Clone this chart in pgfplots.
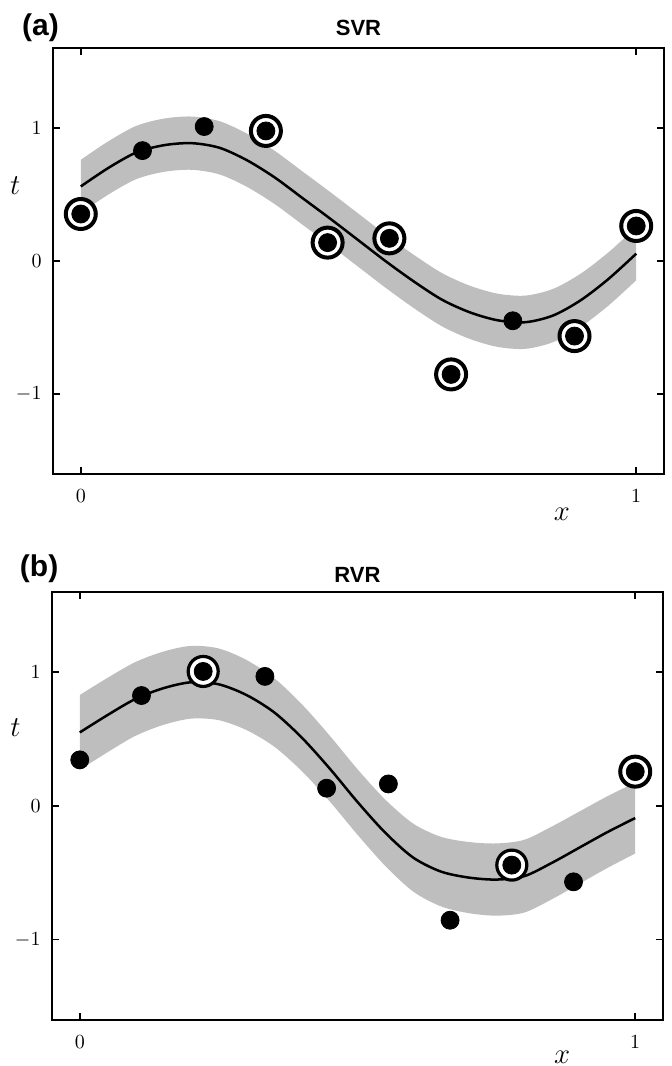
\documentclass[border=0pt]{standalone}
\usepackage{fontspec}
\usepackage{pgfplots}
\pgfplotsset{compat=1.18}
\newfontfamily\hv{Liberation Sans}
\definecolor{bandgray}{RGB}{190,190,190}
\pgfplotsset{
  panel/.style={
    scale only axis, width=305.5pt,
    xmin=-0.05, xmax=1.05, ymin=-1.6, ymax=1.6,
    xtick={0,1}, ytick={-1,0,1},
    tick align=inside, tick pos=both,
    major tick length=3.5pt,
    axis line style={line width=0.75pt},
    every tick/.style={line width=0.75pt, black},
    tick label style={font=\fontsize{10}{12}\selectfont},
    every x tick label/.append style={yshift=-4.5pt},
    every y tick label/.append style={xshift=-2.2pt},
    every axis x label/.style={at={(axis description cs:0.833,-0.094)}, anchor=center, font=\fontsize{15.5}{18}\selectfont},
    every axis y label/.style={at={(axis description cs:-0.062,0.678)}, anchor=center, font=\fontsize{15.5}{18}\selectfont},
    every axis title/.style={at={(axis description cs:0.5,1.047)}, anchor=center, font=\hv\bfseries\fontsize{11}{13}\selectfont},
    xlabel={$x$}, ylabel={$t$},
  },
  ring/.style={only marks, mark=*, mark size=7.5pt, mark options={draw=black, fill=white, line width=2pt}},
  dot/.style={only marks, mark=*, mark size=4.5pt, mark options={draw=black, fill=black}},
  mean/.style={black, line width=1.25pt, smooth},
}
\begin{document}
\begin{tikzpicture}
\path[use as bounding box] (0,0) rectangle (336pt,533pt);
% ---------------- (a) SVR ----------------
\begin{axis}[panel, height=213pt, at={(26.5pt,296pt)}, anchor=south west, title={SVR}, clip mode=individual]
% lower edge of the tube
\addplot[draw=none, stack plots=y, smooth, forget plot] coordinates {
(0,0.36) (0.05,0.50) (0.10,0.615) (0.15,0.67) (0.20,0.685) (0.25,0.65) (0.30,0.555)
(0.35,0.425) (0.40,0.27) (0.45,0.115) (0.50,-0.045) (0.55,-0.205) (0.60,-0.355) (0.65,-0.49)
(0.70,-0.585) (0.75,-0.645) (0.80,-0.66) (0.85,-0.61) (0.90,-0.495) (0.95,-0.335) (1.00,-0.145)
};
% tube width (2 epsilon)
\addplot[draw=none, fill=bandgray, stack plots=y, smooth] coordinates {
(0,0.4) (0.05,0.4) (0.10,0.4) (0.15,0.4) (0.20,0.4) (0.25,0.4) (0.30,0.4)
(0.35,0.4) (0.40,0.4) (0.45,0.4) (0.50,0.4) (0.55,0.4) (0.60,0.4) (0.65,0.4)
(0.70,0.4) (0.75,0.4) (0.80,0.4) (0.85,0.4) (0.90,0.4) (0.95,0.4) (1.00,0.4)
} \closedcycle;
\addplot[mean] coordinates {
(0,0.56) (0.05,0.70) (0.10,0.815) (0.15,0.87) (0.20,0.885) (0.25,0.85) (0.30,0.755)
(0.35,0.625) (0.40,0.47) (0.45,0.315) (0.50,0.155) (0.55,-0.005) (0.60,-0.155) (0.65,-0.29)
(0.70,-0.385) (0.75,-0.445) (0.80,-0.46) (0.85,-0.41) (0.90,-0.295) (0.95,-0.135) (1.00,0.055)
};
\addplot[ring] coordinates {
(0,0.353) (0.3333,0.977) (0.4444,0.138) (0.5556,0.17) (0.6667,-0.852) (0.8889,-0.564) (1,0.263)
};
\addplot[dot] coordinates {
(0,0.353) (0.1111,0.829) (0.2222,1.01) (0.3333,0.977) (0.4444,0.138)
(0.5556,0.17) (0.6667,-0.852) (0.7778,-0.449) (0.8889,-0.564) (1,0.263)
};
\draw[line width=1.4pt] (rel axis cs:1,0) -- (rel axis cs:1,1);
\node[anchor=west, font=\hv\bfseries\fontsize{15}{18}\selectfont] at (axis description cs:-0.062,1.047) {(a)};
\end{axis}
% ---------------- (b) RVR ----------------
\begin{axis}[panel, height=214pt, at={(26pt,23pt)}, anchor=south west, title={RVR}, clip mode=individual,
  every axis title/.style={at={(axis description cs:0.5,1.040)}, anchor=center, font=\hv\bfseries\fontsize{11}{13}\selectfont},
  every axis x label/.style={at={(axis description cs:0.835,-0.086)}, anchor=center, font=\fontsize{15.5}{18}\selectfont},
  every axis y label/.style={at={(axis description cs:-0.06,0.682)}, anchor=center, font=\fontsize{15.5}{18}\selectfont}]
% lower edge of the predictive band
\addplot[draw=none, stack plots=y, smooth, forget plot] coordinates {
(0,0.27) (0.05,0.402) (0.10,0.524) (0.15,0.606) (0.20,0.653) (0.25,0.642) (0.30,0.568)
(0.35,0.444) (0.40,0.26) (0.45,0.034) (0.50,-0.215) (0.55,-0.448) (0.60,-0.639) (0.65,-0.75)
(0.70,-0.801) (0.75,-0.82) (0.80,-0.797) (0.85,-0.697) (0.90,-0.58) (0.95,-0.463) (1.00,-0.355)
};
% band width
\addplot[draw=none, fill=bandgray, stack plots=y, smooth] coordinates {
(0,0.56) (0.05,0.556) (0.10,0.552) (0.15,0.548) (0.20,0.544) (0.25,0.536) (0.30,0.524)
(0.35,0.512) (0.40,0.50) (0.45,0.492) (0.50,0.49) (0.55,0.496) (0.60,0.508) (0.65,0.52)
(0.70,0.532) (0.75,0.54) (0.80,0.544) (0.85,0.544) (0.90,0.54) (0.95,0.536) (1.00,0.53)
} \closedcycle;
\addplot[mean] coordinates {
(0,0.55) (0.05,0.68) (0.10,0.80) (0.15,0.88) (0.20,0.925) (0.25,0.91) (0.30,0.83)
(0.35,0.70) (0.40,0.51) (0.45,0.28) (0.50,0.03) (0.55,-0.20) (0.60,-0.385) (0.65,-0.49)
(0.70,-0.535) (0.75,-0.55) (0.80,-0.525) (0.85,-0.425) (0.90,-0.31) (0.95,-0.195) (1.00,-0.09)
};
\addplot[ring, mark options={draw=black, fill=white, line width=1.6pt}] coordinates {
(0.2222,1.006) (0.7778,-0.442)
};
\addplot[ring] coordinates {
(1,0.257)
};
\addplot[dot] coordinates {
(0,0.345) (0.1111,0.826) (0.2222,1.006) (0.3333,0.969) (0.4444,0.133)
(0.5556,0.165) (0.6667,-0.854) (0.7778,-0.442) (0.8889,-0.567) (1,0.257)
};
\draw[line width=1.2pt] (rel axis cs:1,0) -- (rel axis cs:1,1);
\node[anchor=west, font=\hv\bfseries\fontsize{15}{18}\selectfont] at (axis description cs:-0.064,1.054) {(b)};
\end{axis}
\end{tikzpicture}
\end{document}
